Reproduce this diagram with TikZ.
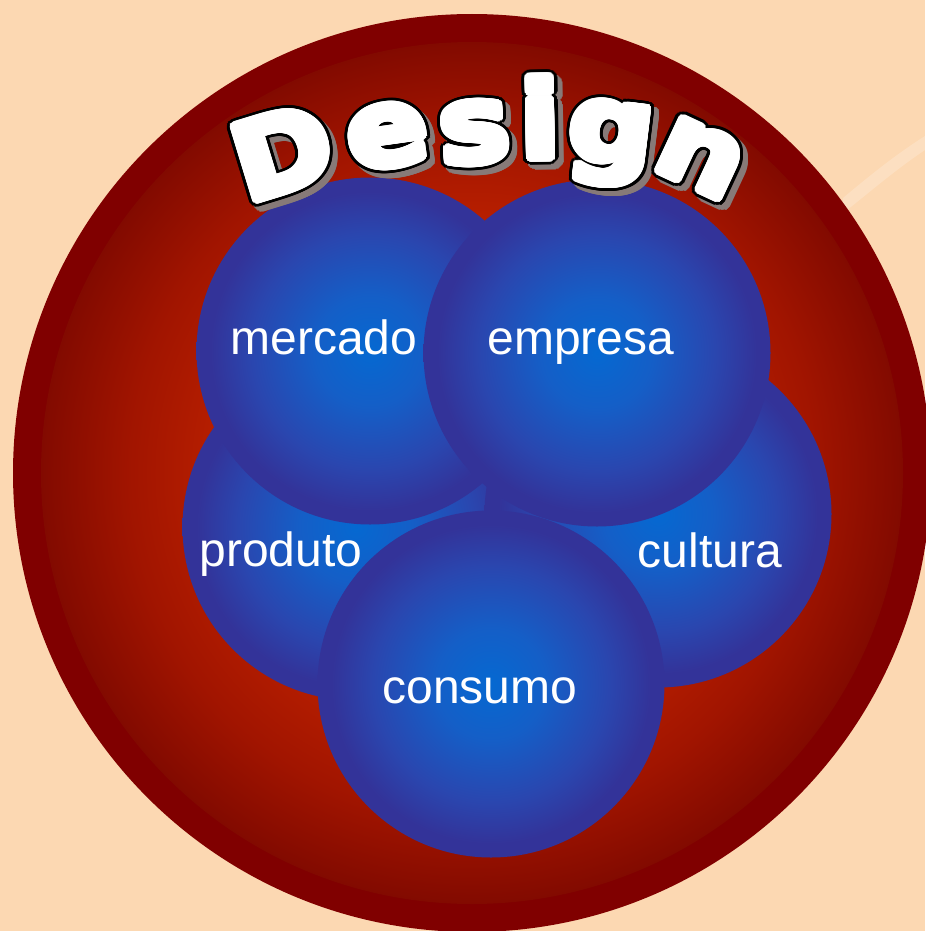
\documentclass[tikz,border=0pt]{standalone}
\usepackage{fontspec}
\setmainfont{Liberation Sans}
\newfontfamily\titlefont{DejaVu Sans}
\usepackage{xcolor}
\usepackage[copies]{contour}
\contournumber{32}

\definecolor{peach}{RGB}{252,216,178}
\definecolor{rim}{RGB}{128,0,0}
\definecolor{shade}{RGB}{135,122,120}
\pgfdeclareradialshading{redglow}{\pgfpoint{0bp}{0bp}}{rgb(0bp)=(0.80,0.16,0); rgb(14bp)=(0.73,0.125,0); rgb(20bp)=(0.63,0.08,0); rgb(25bp)=(0.51,0.04,0); rgb(50bp)=(0.51,0.04,0)}
\pgfdeclareradialshading{bluesphere}{\pgfpoint{0bp}{0bp}}{rgb(0bp)=(0.02,0.41,0.82); rgb(8bp)=(0.08,0.37,0.78); rgb(17bp)=(0.165,0.275,0.686); rgb(23bp)=(0.2,0.2,0.6); rgb(50bp)=(0.2,0.2,0.6)}

\begin{document}
\begin{tikzpicture}[x=0.75pt,y=0.75pt,yscale=-1,xscale=1,
  bubble/.style={circle, minimum size=260.25pt, inner sep=0pt, shading=bluesphere},
  word/.style={text=white, font=\fontsize{36}{43}\selectfont, anchor=base, inner sep=0pt},
  glyph/.style={font=\titlefont\fontsize{80}{88}\selectfont\bfseries, anchor=base, inner sep=0pt}]

%Background
\fill[peach] (0,0) rectangle (925,931);
\useasboundingbox (0,0) rectangle (925,931);
%Swoosh
\fill[white, opacity=0.2] (842,214) .. controls (870,192) and (895,170) .. (925,150) -- (925,136) .. controls (895,155) and (868,177) .. (843,198) -- cycle;

%Shape: Circle (rim and glow)
\node[circle, fill=rim, minimum size=688.5pt, inner sep=0pt] (outer) at (472,473) {};
\node[circle, shading=redglow, minimum size=646.5pt, inner sep=0pt] (inner) at (outer.center) {};

%Shape: Circles (bottom layer first)
\node[bubble] (produto) at (356,527) {};
\node[bubble] (cultura) at (658,514) {};
\node[bubble] (mercado) at (370,351) {};
\node[bubble] (empresa) at (597,353) {};
\node[bubble] (consumo) at (491,684) {};

% Text Node
\node[word] (tmercado) at (324,354) {mercado};
\node[word] (tempresa) at (581,354) {empresa};
\node[word] (tproduto) at (281,566) {produto};
\node[word] (tcultura) at (710,567) {cultura};
\node[word] (tconsumo) at (480,703) {consumo};

% Arched title: shadow, outline, fill
\foreach \cc/\dd/\ww/\ly in {shade/5/5pt/s, black/0/5pt/o, white/0/2.8pt/f}{
  \foreach \xx/\yy/\aa/\ll in {294/189/17/D, 392/165/8/e, 477/162/4/s, 541/158/1/i, 608/162/-7/g, 688/185/-25/n}{
    \node[glyph, rotate=\aa, text=\cc] (\ly\ll) at (\xx+\dd,\yy+\dd) {\scalebox{1.12}[1]{\contourlength{\ww}\contour{\cc}{\ll}}};
  }
}
\end{tikzpicture}
\end{document}
